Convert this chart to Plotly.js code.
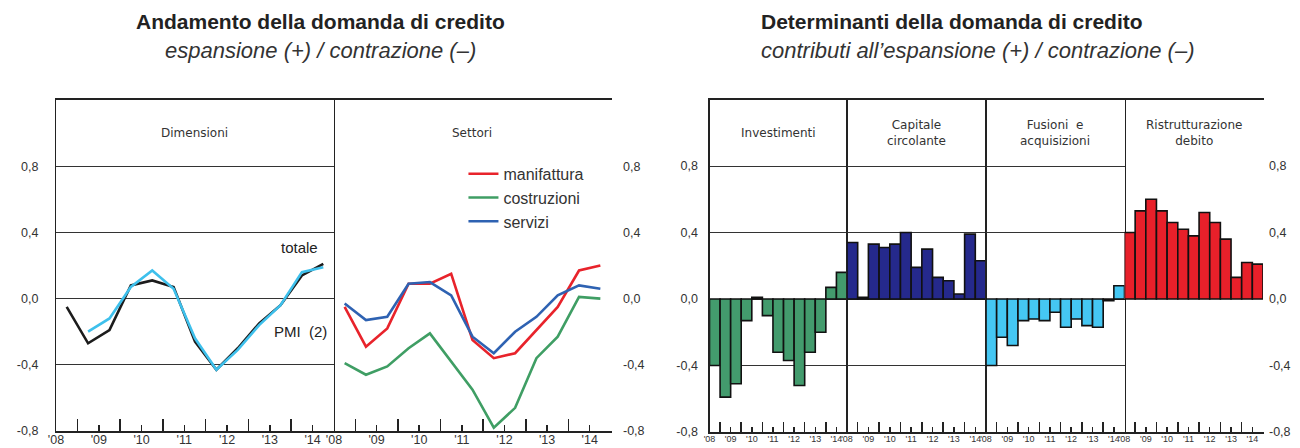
<!DOCTYPE html>
<html>
<head>
<meta charset="utf-8">
<script src="https://cdn.plot.ly/plotly-3.0.1.min.js"></script>
<style>
  html, body { margin: 0; padding: 0; background: #fff; }
  #chart { width: 1300px; height: 448px; }
</style>
</head>
<body>
<div id="chart"></div>
<script>
// ---- data (semi-annual survey rounds) ----
const semesters = [2008.75, 2009.25, 2009.75, 2010.25, 2010.75, 2011.25, 2011.75, 2012.25, 2012.75, 2013.25, 2013.75, 2014.25, 2014.75];

// left chart: Dimensioni
const totale = [-0.05, -0.27, -0.19, 0.08, 0.11, 0.07, -0.26, -0.43, -0.30, -0.15, -0.04, 0.14, 0.21];
const pmi    = [null, -0.20, -0.12, 0.07, 0.17, 0.06, -0.24, -0.43, -0.31, -0.16, -0.04, 0.16, 0.19];

// left chart: Settori
const manifattura = [-0.05, -0.29, -0.18, 0.09, 0.09, 0.15, -0.25, -0.36, -0.33, -0.19, -0.05, 0.17, 0.20];
const costruzioni = [-0.39, -0.46, -0.41, -0.30, -0.21, -0.38, -0.55, -0.78, -0.66, -0.36, -0.23, 0.01, 0.00];
const servizi     = [-0.03, -0.13, -0.11, 0.09, 0.10, 0.02, -0.23, -0.33, -0.20, -0.11, 0.02, 0.08, 0.06];

// right chart: determinanti
const investimenti     = [-0.40, -0.59, -0.51, -0.13, 0.01, -0.10, -0.32, -0.37, -0.52, -0.32, -0.20, 0.07, 0.16];
const capitale         = [0.34, 0.01, 0.33, 0.31, 0.33, 0.40, 0.19, 0.30, 0.13, 0.11, 0.03, 0.39, 0.23];
const fusioni          = [-0.40, -0.23, -0.28, -0.13, -0.12, -0.13, -0.08, -0.17, -0.12, -0.16, -0.17, -0.01, 0.08];
const ristrutturazione = [0.40, 0.53, 0.60, 0.53, 0.46, 0.42, 0.38, 0.52, 0.46, 0.36, 0.13, 0.22, 0.21];

// ticks
const yearMid    = [2008.5, 2009.5, 2010.5, 2011.5, 2012.5, 2013.5, 2014.5];
const yearLabels = ["'08", "'09", "'10", "'11", "'12", "'13", "'14"];
const yearStart  = [2009, 2010, 2011, 2012, 2013, 2014];
const yTickVals  = [-0.8, -0.4, 0, 0.4, 0.8];
const yTickText  = ['-0,8', '-0,4', '0,0', '0,4', '0,8'];

const FONT = 'Liberation Sans, Arial, sans-serif';
const HFONT = 'DejaVu Sans, Liberation Sans, sans-serif';
const INK = '#222';

function xAxis(domain, anchor, big) {
  return {
    domain: domain, anchor: anchor, range: [2008.5, 2015.0],
    tickmode: 'array', tickvals: yearMid, ticktext: yearLabels,
    ticks: 'inside', ticklen: big ? 6 : 5, tickwidth: 1.5, tickcolor: INK,
    minor: { tickmode: 'array', tickvals: yearStart, ticks: 'inside', ticklen: big ? 12 : 10, tickwidth: 1.5, tickcolor: INK },
    showline: true, linecolor: INK, linewidth: 2, mirror: true,
    showgrid: false, zeroline: false,
    tickfont: { size: big ? 12.5 : 9, color: '#333', family: FONT },
    ticklabelstandoff: big ? -4 : -3, fixedrange: true
  };
}
function yAxis(domain, anchor, standoff) {
  return {
    domain: domain, anchor: anchor, range: [-0.8, 1.2],
    tickmode: 'array', tickvals: yTickVals, ticktext: yTickText,
    ticks: '', showline: true, linecolor: INK, linewidth: 1.1, mirror: 'all',
    showgrid: true, gridcolor: '#333', gridwidth: 1, zeroline: false,
    tickfont: { size: 12.5, color: '#333', family: FONT },
    ticklabelstandoff: standoff, fixedrange: true
  };
}
function yRight(overlay, anchor, standoff) {
  return {
    overlaying: overlay, anchor: anchor, side: 'right', range: [-0.8, 1.2],
    tickmode: 'array', tickvals: yTickVals, ticktext: yTickText,
    ticks: '', showline: false, showgrid: false, zeroline: false,
    tickfont: { size: 12.5, color: '#333', family: FONT },
    ticklabelstandoff: standoff, fixedrange: true
  };
}

const LW = 2.6;
const traces = [
  { x: semesters, y: totale, xaxis: 'x', yaxis: 'y', mode: 'lines', name: 'totale', showlegend: false,
    line: { color: '#1c1c1c', width: LW } },
  { x: semesters, y: pmi, xaxis: 'x', yaxis: 'y', mode: 'lines', name: 'PMI (2)', showlegend: false,
    line: { color: '#3ec0ec', width: LW } },
  { x: semesters, y: manifattura, xaxis: 'x2', yaxis: 'y3', mode: 'lines', name: 'manifattura',
    line: { color: '#e8232b', width: LW } },
  { x: semesters, y: costruzioni, xaxis: 'x2', yaxis: 'y3', mode: 'lines', name: 'costruzioni',
    line: { color: '#3f9e64', width: LW } },
  { x: semesters, y: servizi, xaxis: 'x2', yaxis: 'y3', mode: 'lines', name: 'servizi',
    line: { color: '#2e62b2', width: LW } },
  { type: 'bar', x: semesters, y: investimenti, xaxis: 'x3', yaxis: 'y2', name: 'Investimenti', showlegend: false,
    marker: { color: '#439b6d', line: { color: '#111', width: 1.6 } } },
  { type: 'bar', x: semesters, y: capitale, xaxis: 'x4', yaxis: 'y2', name: 'Capitale circolante', showlegend: false,
    marker: { color: '#25298c', line: { color: '#111', width: 1.6 } } },
  { type: 'bar', x: semesters, y: fusioni, xaxis: 'x5', yaxis: 'y2', name: 'Fusioni e acquisizioni', showlegend: false,
    marker: { color: '#45c7f3', line: { color: '#111', width: 1.6 } } },
  { type: 'bar', x: semesters, y: ristrutturazione, xaxis: 'x6', yaxis: 'y4', name: 'Ristrutturazione debito', showlegend: false,
    marker: { color: '#e8202a', line: { color: '#111', width: 1.6 } } }
];

const yDomL = [0.0379, 0.7768];
const yDomR = [0.0357, 0.7779];

const hdrFont = { size: 12, color: '#333', family: HFONT };
const layout = {
  width: 1300, height: 448,
  margin: { l: 0, r: 0, t: 0, b: 0 },
  paper_bgcolor: '#fff', plot_bgcolor: '#fff',
  font: { family: FONT, color: '#333' },
  bargap: 0,
  xaxis:  xAxis([0.04308, 0.25692], 'y', true),
  xaxis2: xAxis([0.25692, 0.47000], 'y', true),
  xaxis3: xAxis([0.54577, 0.65154], 'y2', false),
  xaxis4: xAxis([0.65154, 0.75846], 'y2', false),
  xaxis5: xAxis([0.75846, 0.86500], 'y2', false),
  xaxis6: xAxis([0.86500, 0.97154], 'y2', false),
  yaxis:  yAxis(yDomL, 'x', 14),
  yaxis2: yAxis(yDomR, 'x3', 8),
  yaxis3: yRight('y', 'x2', 11),
  yaxis4: yRight('y2', 'x6', 5),
  showlegend: true,
  legend: {
    x: 0.3565, y: 0.650, xanchor: 'left', yanchor: 'top',
    bgcolor: 'rgba(0,0,0,0)', borderwidth: 0,
    font: { size: 16, color: '#333', family: FONT },
    itemwidth: 30, tracegroupgap: 0
  },
  annotations: [
    { xref: 'paper', yref: 'paper', x: 0.2462, y: 0.951, xanchor: 'center', yanchor: 'middle', showarrow: false,
      text: '<b>Andamento della domanda di credito</b>', font: { size: 21, color: '#222', family: FONT } },
    { xref: 'paper', yref: 'paper', x: 0.2462, y: 0.888, xanchor: 'center', yanchor: 'middle', showarrow: false,
      text: '<i>espansione (+) / contrazione (–)</i>', font: { size: 22, color: '#333', family: FONT } },
    { xref: 'paper', yref: 'paper', x: 0.5835, y: 0.951, xanchor: 'left', yanchor: 'middle', showarrow: false,
      text: '<b>Determinanti della domanda di credito</b>', font: { size: 21, color: '#222', family: FONT } },
    { xref: 'paper', yref: 'paper', x: 0.5835, y: 0.888, xanchor: 'left', yanchor: 'middle', showarrow: false,
      text: '<i>contributi all’espansione (+) / contrazione (–)</i>', font: { size: 22, color: '#333', family: FONT } },
    { xref: 'x domain', yref: 'y', x: 0.5, y: 1.0, showarrow: false, text: 'Dimensioni', font: hdrFont },
    { xref: 'x2 domain', yref: 'y', x: 0.5, y: 1.0, showarrow: false, text: 'Settori', font: hdrFont },
    { xref: 'x3 domain', yref: 'y2', x: 0.5, y: 1.0, showarrow: false, text: 'Investimenti', font: hdrFont },
    { xref: 'x4 domain', yref: 'y2', x: 0.5, y: 1.0, showarrow: false, text: 'Capitale<br>circolante', font: hdrFont },
    { xref: 'x5 domain', yref: 'y2', x: 0.5, y: 1.0, showarrow: false, text: 'Fusioni  e<br>acquisizioni', font: hdrFont },
    { xref: 'x6 domain', yref: 'y2', x: 0.5, y: 1.0, showarrow: false, text: 'Ristrutturazione<br>debito', font: hdrFont },
    { xref: 'x', yref: 'y', x: 2014.2, y: 0.31, showarrow: false, text: 'totale', font: { size: 15, color: '#222', family: FONT } },
    { xref: 'x', yref: 'y', x: 2014.22, y: -0.20, showarrow: false, text: 'PMI  (2)', font: { size: 15, color: '#222', family: FONT } }
  ]
};

Plotly.newPlot('chart', traces, layout, { staticPlot: true, displayModeBar: false });
</script>
</body>
</html>
